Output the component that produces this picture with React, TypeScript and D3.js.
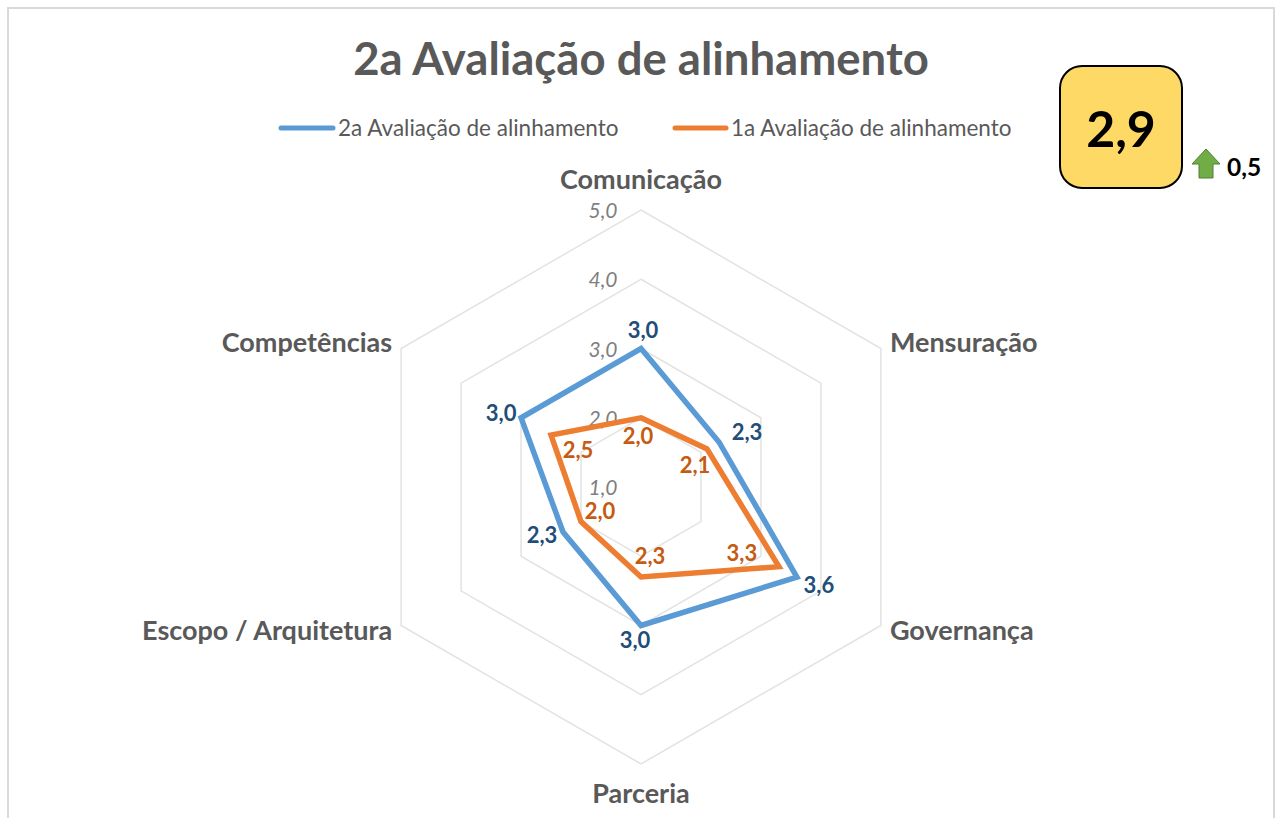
import React from 'react';
import * as d3 from 'd3';

const categories = ['Comunicação', 'Mensuração', 'Governança', 'Parceria', 'Escopo / Arquitetura', 'Competências'];
const series2a = [3.0, 2.3, 3.6, 3.0, 2.3, 3.0];
const series1a = [2.0, 2.1, 3.3, 2.3, 2.0, 2.5];
const ticks = [1, 2, 3, 4, 5];
const seriesNames = ['2a Avaliação de alinhamento', '1a Avaliação de alinhamento'];
const titleText = '2a Avaliação de alinhamento';
const scoreText = '2,9';
const deltaText = '0,5';

// deslocamento dos rótulos em relação ao ponto
const offsets2a = [[2, -19], [28, -10], [22, 8], [-6, 14], [-21, 3], [-20, -5]];
const offsets1a = [[-3, 18], [-12, 16], [-37, -14], [9, -21], [19, -10.5], [27, 15]];
const categoryAnchors = ['middle', 'start', 'start', 'middle', 'end', 'end'];
const categoryOffsets = [[0, -29], [9, -5], [9, 6], [0, 31], [-9, 6], [-9, -5]];

const cx = 641;
const cy = 487;
const fontFamily = 'Lato, "Noto Sans", sans-serif';

const fmt = d3.formatLocale({ decimal: ',', thousands: '.', grouping: [3], currency: ['', ''] }).format('.1f');
const r = d3.scaleLinear().domain([1, 5]).range([0, 277]);
const angle = d3.scaleLinear().domain([0, categories.length]).range([0, 2 * Math.PI]);

const radial = d3
  .lineRadial<number>()
  .angle((_, i) => angle(i))
  .radius((d) => r(d))
  .curve(d3.curveLinearClosed);

const px = (i: number, v: number) => cx + r(v) * Math.sin(angle(i));
const py = (i: number, v: number) => cy - r(v) * Math.cos(angle(i));

const series = [
  { values: series2a, offsets: offsets2a, stroke: '#5B9BD5', label: '#1F4E79' },
  { values: series1a, offsets: offsets1a, stroke: '#ED7D31', label: '#C55A11' },
];

export default function App() {
  return (
    <svg
      width={1280}
      height={818}
      style={{ position: 'absolute', left: 0, top: 0, background: '#fff', fontFamily }}
    >
      {/* moldura sem borda inferior */}
      <path d="M8,818V8H1274V818" fill="none" stroke="#D9D9D9" strokeWidth={2} />

      <text x={641} y={75} textAnchor="middle" fontSize={45.5} fontWeight={700} fill="#595959">
        {titleText}
      </text>

      {/* legenda */}
      <g fontSize={22.5} fill="#595959">
        <line x1={281} x2={333} y1={128} y2={128} stroke={series[0].stroke} strokeWidth={5} strokeLinecap="round" />
        <text x={338} y={136}>{seriesNames[0]}</text>
        <line x1={675} x2={726} y1={128} y2={128} stroke={series[1].stroke} strokeWidth={5} strokeLinecap="round" />
        <text x={731} y={136}>{seriesNames[1]}</text>
      </g>

      {/* grade */}
      <g transform={`translate(${cx},${cy})`} fill="none" stroke="#E3E3E3" strokeWidth={1.5}>
        {ticks.slice(1).map((t) => (
          <path key={t} d={radial(categories.map(() => t)) ?? ''} />
        ))}
      </g>

      {ticks.map((t) => (
        <text
          key={t}
          x={cx - 38}
          y={cy - r(t) + 8}
          textAnchor="middle"
          fontSize={21}
          fontStyle="italic"
          fill="#7F7F7F"
        >
          {fmt(t)}
        </text>
      ))}

      {series.map((s) => (
        <path
          key={s.stroke}
          transform={`translate(${cx},${cy})`}
          d={radial(s.values) ?? ''}
          fill="none"
          stroke={s.stroke}
          strokeWidth={5.5}
          strokeLinejoin="miter"
        />
      ))}

      {series.map((s) =>
        s.values.map((v, i) => (
          <text
            key={`${s.stroke}-${i}`}
            x={px(i, v) + s.offsets[i][0]}
            y={py(i, v) + s.offsets[i][1] + 8}
            textAnchor="middle"
            fontSize={22}
            fontWeight={700}
            fill={s.label}
          >
            {fmt(v)}
          </text>
        ))
      )}

      {categories.map((c, i) => (
        <text
          key={c}
          x={px(i, 5) + categoryOffsets[i][0]}
          y={py(i, 5) + categoryOffsets[i][1]}
          dy={8}
          textAnchor={categoryAnchors[i] as 'middle' | 'start' | 'end'}
          fontSize={27}
          fontWeight={700}
          fill="#595959"
        >
          {c}
        </text>
      ))}

      {/* caixa com a nota */}
      <rect x={1060} y={66} width={122} height={122} rx={22} fill="#FFD966" stroke="#000" strokeWidth={2} />
      <text x={1121} y={147} textAnchor="middle" fontSize={50} fontWeight={700} fill="#000">
        {scoreText}
      </text>
      <path
        d="M1206,149L1220,164H1213V178H1199V164H1192Z"
        fill="#70AD47"
        stroke="#507E32"
        strokeWidth={1}
      />
      <text x={1227} y={176} fontSize={24.5} fontWeight={700} fill="#000">
        {deltaText}
      </text>
    </svg>
  );
}
